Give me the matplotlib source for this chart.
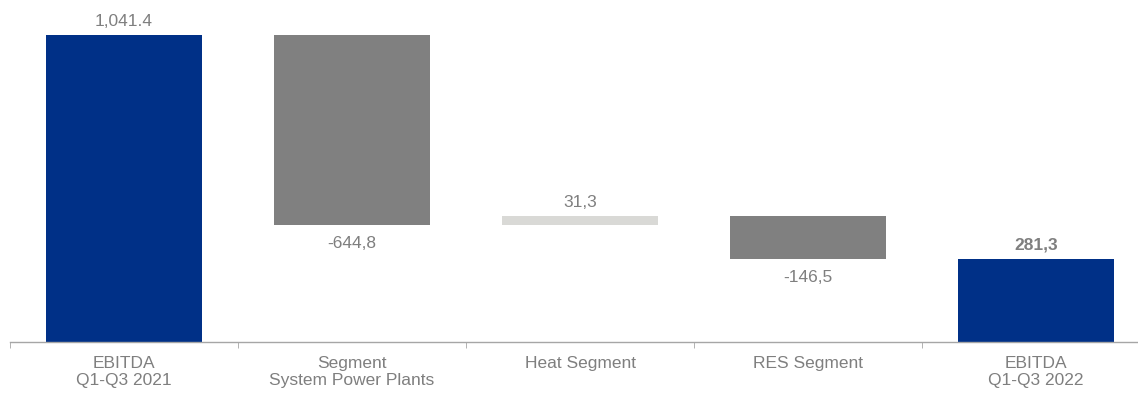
import matplotlib.pyplot as plt

categories = ["EBITDA\nQ1-Q3 2021", "Segment\nSystem Power Plants", "Heat Segment",
              "RES Segment", "EBITDA\nQ1-Q3 2022"]
values = [1041.4, -644.8, 31.3, -146.5, 281.3]
value_labels = ["1,041.4", "-644,8", "31,3", "-146,5", "281,3"]
kinds = ["total", "delta", "delta", "delta", "total"]

NAVY = "#003087"
GREY = "#808080"
LIGHT = "#D9D9D6"
TEXT = "#7F7F7F"

plt.rcParams["font.family"] = ["Liberation Sans", "DejaVu Sans"]

W, H = 1138, 393
fig = plt.figure(figsize=(W / 100, H / 100), dpi=100)
ax = fig.add_axes([10 / W, (H - 342) / H, 1140 / W, 342 / H])

running = 0.0
for i, (v, kind, lab) in enumerate(zip(values, kinds, value_labels)):
    if kind == "total":
        bottom, height = 0, v
        color = NAVY
        running = v
    else:
        bottom = running if v >= 0 else running + v
        height = abs(v)
        color = LIGHT if v >= 0 else GREY
        running += v
    ax.bar(i, height, bottom=bottom, width=0.68, color=color, zorder=2)
    weight = "bold" if i == len(values) - 1 else "normal"
    if v >= 0:
        ax.annotate(lab, (i, bottom + height), xytext=(0, 4.5), textcoords="offset points",
                    ha="center", va="bottom", fontsize=12.5, color=TEXT, fontweight=weight)
    else:
        ax.annotate(lab, (i, bottom), xytext=(0, -8), textcoords="offset points",
                    ha="center", va="top", fontsize=12.5, color=TEXT, fontweight=weight)

ax.set_xlim(-0.5, 4.5)
ax.set_ylim(0, 1160)
for s in ["top", "right", "left"]:
    ax.spines[s].set_visible(False)
ax.spines["bottom"].set_color("#A6A6A6")
ax.spines["bottom"].set_linewidth(1.0)
ax.set_yticks([])

ax.set_xticks(range(len(categories)))
ax.set_xticklabels(categories, fontsize=12.5, color=TEXT, linespacing=1.2)
ax.tick_params(axis="x", which="major", length=0, pad=10)
ax.set_xticks([-0.5, 0.5, 1.5, 2.5, 3.5], minor=True)
ax.tick_params(axis="x", which="minor", length=4, color="#A6A6A6", direction="out")

fig.savefig("out.png", dpi=100)
